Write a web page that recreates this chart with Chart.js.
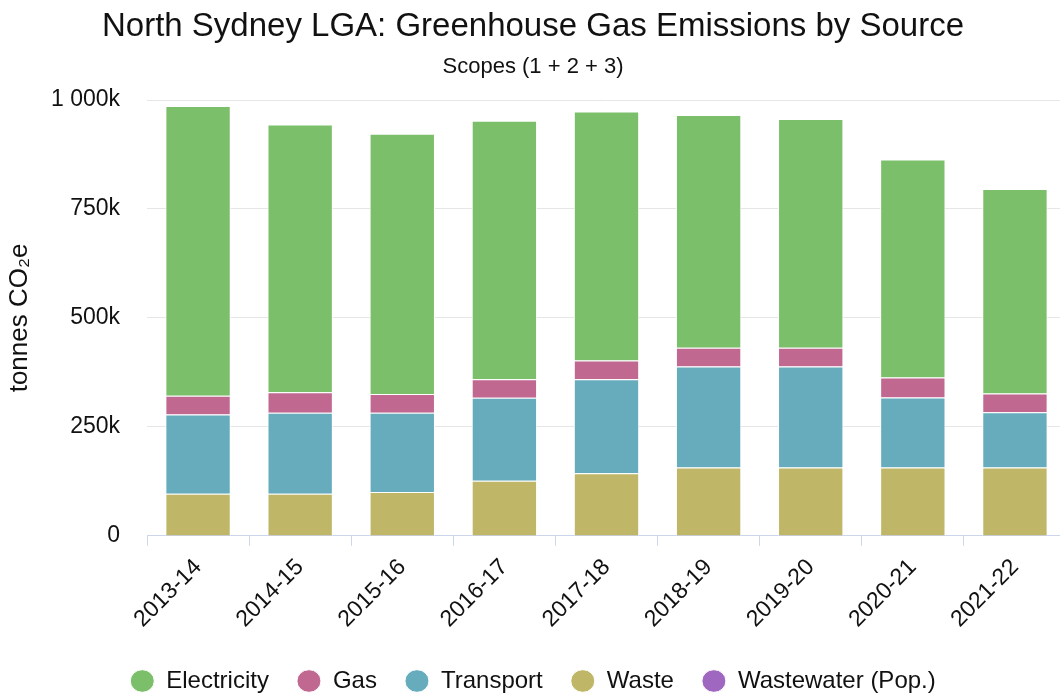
<!DOCTYPE html>
<html>
<head>
<meta charset="utf-8">
<script src="https://cdn.jsdelivr.net/npm/chart.js@4.4.1/dist/chart.umd.min.js"></script>
<style>
  html, body { margin: 0; padding: 0; background: #fff; overflow: hidden; }
  #wrap { width: 1066px; height: 698px; }
</style>
</head>
<body>
<div id="wrap"><canvas id="emissions"></canvas></div>
<script>
const years = ["2013-14", "2014-15", "2015-16", "2016-17", "2017-18", "2018-19", "2019-20", "2020-21", "2021-22"];

// tonnes CO2e
const electricity = [665000, 614000, 597000, 593000, 571000, 534000, 525000, 500000, 469000];
const gas = [43000, 47000, 43000, 43000, 43000, 43000, 43000, 46000, 43000];
const transport = [182000, 186000, 182000, 190000, 216000, 232000, 232000, 161000, 127000];
const waste = [96000, 96000, 100000, 126000, 143000, 156000, 156000, 156000, 156000];
const wastewater = [500, 500, 500, 500, 500, 500, 500, 500, 500];

const yTicks = [0, 250000, 500000, 750000, 1000000];

const font = "'Liberation Sans', Arial, sans-serif";

function fmtK(v) {
  if (v === 0) return '0';
  const k = Math.round(v / 1000);
  return String(k).replace(/\B(?=(\d{3})+(?!\d))/g, ' ') + 'k';
}

const ctx = document.getElementById('emissions');

new Chart(ctx, {
  type: 'bar',
  data: {
    labels: years,
    // first dataset sits at the bottom of the stack
    datasets: [
      { label: 'Wastewater (Pop.)', data: wastewater, backgroundColor: '#a067c0' },
      { label: 'Waste', data: waste, backgroundColor: '#bfb767' },
      { label: 'Transport', data: transport, backgroundColor: '#67acbd' },
      { label: 'Gas', data: gas, backgroundColor: '#c06890' },
      { label: 'Electricity', data: electricity, backgroundColor: '#7cbf6a' }
    ]
  },
  options: {
    responsive: true,
    maintainAspectRatio: false,
    animation: false,
    layout: {
      padding: { left: 0, right: 0, top: 0, bottom: -5 }
    },
    datasets: {
      bar: {
        borderColor: '#ffffff',
        borderWidth: 1,
        categoryPercentage: 1,
        barPercentage: 0.64
      }
    },
    plugins: {
      legend: {
        position: 'bottom',
        reverse: true,
        labels: {
          usePointStyle: true,
          pointStyle: 'circle',
          pointStyleWidth: 24,
          boxHeight: 16,
          padding: 28,
          color: '#111',
          font: { family: font, size: 24 }
        }
      },
      title: {
        display: true,
        text: 'North Sydney LGA: Greenhouse Gas Emissions by Source',
        color: '#111',
        font: { family: font, size: 33, weight: 'normal' },
        padding: { top: 7, bottom: 7 }
      },
      subtitle: {
        display: true,
        text: 'Scopes (1 + 2 + 3)',
        color: '#111',
        font: { family: font, size: 22 },
        padding: { bottom: 20 }
      },
      tooltip: { enabled: false }
    },
    scales: {
      x: {
        stacked: true,
        grid: {
          drawOnChartArea: false,
          color: '#ccd6eb',
          tickLength: 10
        },
        border: { color: '#ccd6eb', width: 1 },
        ticks: {
          color: '#111',
          maxRotation: 45,
          minRotation: 45,
          padding: 8,
          font: { family: font, size: 23 }
        }
      },
      y: {
        stacked: true,
        min: 0,
        max: 1000000,
        afterBuildTicks: axis => { axis.ticks = yTicks.map(v => ({ value: v })); },
        // fixed width so the plot starts where the original one does
        afterFit: axis => { axis.width = 147; },
        grid: {
          color: '#e6e6e6',
          drawTicks: false
        },
        border: { display: false },
        ticks: {
          color: '#111',
          padding: 27,
          font: { family: font, size: 23 },
          callback: v => fmtK(v)
        },
        title: {
          display: true,
          text: 'tonnes CO₂e',
          color: '#111',
          font: { family: font, size: 26 },
          padding: { top: 4, bottom: 4 }
        }
      }
    }
  }
});
</script>
</body>
</html>
